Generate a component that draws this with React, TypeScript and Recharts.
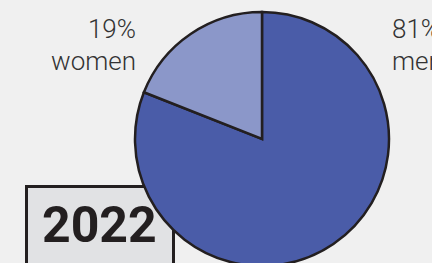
import { PieChart, Pie, Cell } from "recharts";

const groups = ["men", "women"];
const shares = [81, 19];
const fills = ["#4a5ca8", "#8b97c9"];
const year = "2022";

const data = groups.map((g, i) => ({ name: g, value: shares[i] }));

const INK = "#231f20";

// labels sit beside the pie, not on the slice
function SideLabel(props: any) {
  const { cx, cy, outerRadius, index, payload } = props;
  const left = index === 1;
  const x = left ? cx - outerRadius + 1 : cx + outerRadius + 3;
  const y = cy - outerRadius + 26;
  return (
    <text
      x={x}
      y={y}
      textAnchor={left ? "end" : "start"}
      fill="#333"
      fontFamily="Roboto, sans-serif"
      fontWeight={300}
      fontSize={26}
    >
      <tspan x={x}>{payload.value}%</tspan>
      <tspan x={x} dy={32}>
        {payload.name}
      </tspan>
    </text>
  );
}

export default function App() {
  return (
    <div
      style={{
        position: "fixed",
        left: 0,
        top: 0,
        width: 432,
        height: 263,
        overflow: "hidden",
        background: "#f0f0f0",
      }}
    >
      <div
        style={{
          position: "absolute",
          left: 25,
          top: 185,
          width: 150,
          height: 120,
          boxSizing: "border-box",
          border: `3px solid ${INK}`,
          background: "#e1e2e4",
          fontFamily: "Roboto, sans-serif",
          fontWeight: 700,
          fontSize: 50,
          color: INK,
          lineHeight: "58px",
          paddingLeft: 14,
          paddingTop: 8,
        }}
      >
        {year}
      </div>
      <div style={{ position: "absolute", left: 0, top: 0 }}>
        <PieChart width={432} height={263} margin={{ top: 0, right: 0, bottom: 0, left: 0 }}>
          <Pie
            data={data}
            dataKey="value"
            nameKey="name"
            cx={262}
            cy={139}
            outerRadius={127}
            startAngle={90}
            endAngle={-270}
            stroke={INK}
            strokeWidth={2.5}
            labelLine={false}
            label={SideLabel}
            isAnimationActive={false}
          >
            {data.map((d, i) => (
              <Cell key={d.name} fill={fills[i]} />
            ))}
          </Pie>
        </PieChart>
      </div>
    </div>
  );
}
